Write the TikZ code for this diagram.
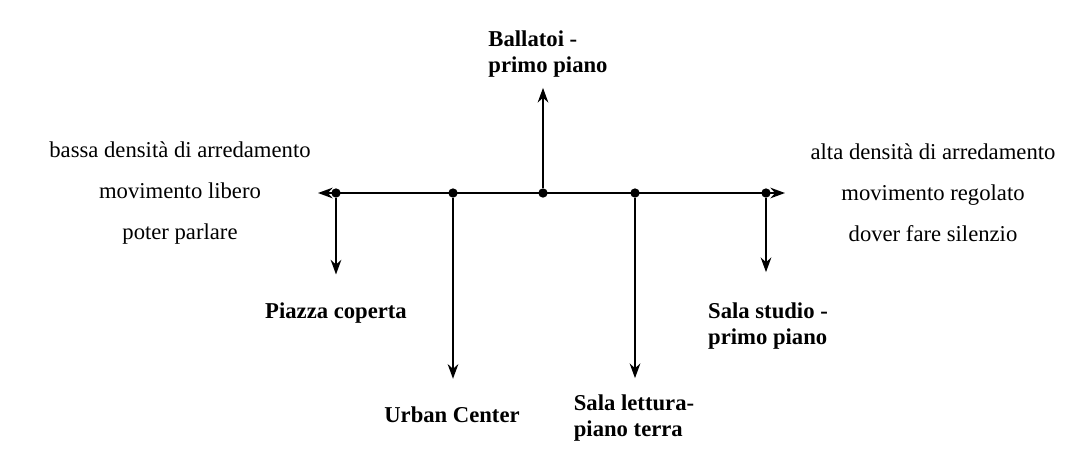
\documentclass[tikz,border=0pt]{standalone}
\usepackage{fontspec}
\setmainfont{Liberation Serif}
\usetikzlibrary{arrows.meta, calc, positioning}

\tikzset{
    dot/.style={circle, fill, inner sep=0pt, minimum size=7pt},
    tip/.style={-{Stealth[length=11pt, width=8pt]}, line width=1.2pt},
    place/.style={font=\fontsize{17}{20}\selectfont\bfseries, align=left, inner sep=0pt},
    pole/.style={font=\fontsize{17}{30.75}\selectfont, align=center, inner sep=0pt}
}

\begin{document}
\begin{tikzpicture}[x=0.75pt, y=-0.75pt]
    \useasboundingbox (0,0) rectangle (1088,455);

    % asse
    \node[dot] (piazzaD) at (336,193) {};
    \node[dot] (urbanD) at (453,193) {};
    \node[dot] (ballD) at (543,193) {};
    \node[dot] (letturaD) at (635,193) {};
    \node[dot] (studioD) at (766,193) {};
    \coordinate (axL) at ($(piazzaD) + (-18, 0)$);
    \coordinate (axR) at ($(studioD) + (19, 0)$);

    % poli
    \node[pole] (basso) at (180,193) {bassa densità di arredamento\\movimento libero\\poter parlare};
    \node[pole] (alto) at (933,193) {alta densità di arredamento\\movimento regolato\\dover fare silenzio};

    % ambienti
    \node[place] (ball) at (548,54) {Ballatoi -\\primo piano};
    \node[place] (piazza) at (336,313) {Piazza coperta};
    \node[place] (urban) at (452,415) {Urban Center};
    \node[place] (lettura) at (634,418) {Sala lettura-\\piano terra};
    \node[place] (studio) at (768,326) {Sala studio -\\primo piano};

    \draw[tip, {Stealth[length=11pt, width=8pt]}-{Stealth[length=11pt, width=8pt]}] (axL) -- (axR);
    \draw[tip] (ballD) -- ($(ballD |- ball.south) + (0, 10)$);
    \draw[tip] (piazzaD) -- ($(piazzaD |- piazza.north) + (0, -28)$);
    \draw[tip] (urbanD) -- ($(urbanD |- urban.north) + (0, -28)$);
    \draw[tip] (letturaD) -- ($(letturaD |- lettura.north) + (0, -16)$);
    \draw[tip] (studioD) -- ($(studioD |- studio.north) + (0, -30)$);
\end{tikzpicture}
\end{document}
